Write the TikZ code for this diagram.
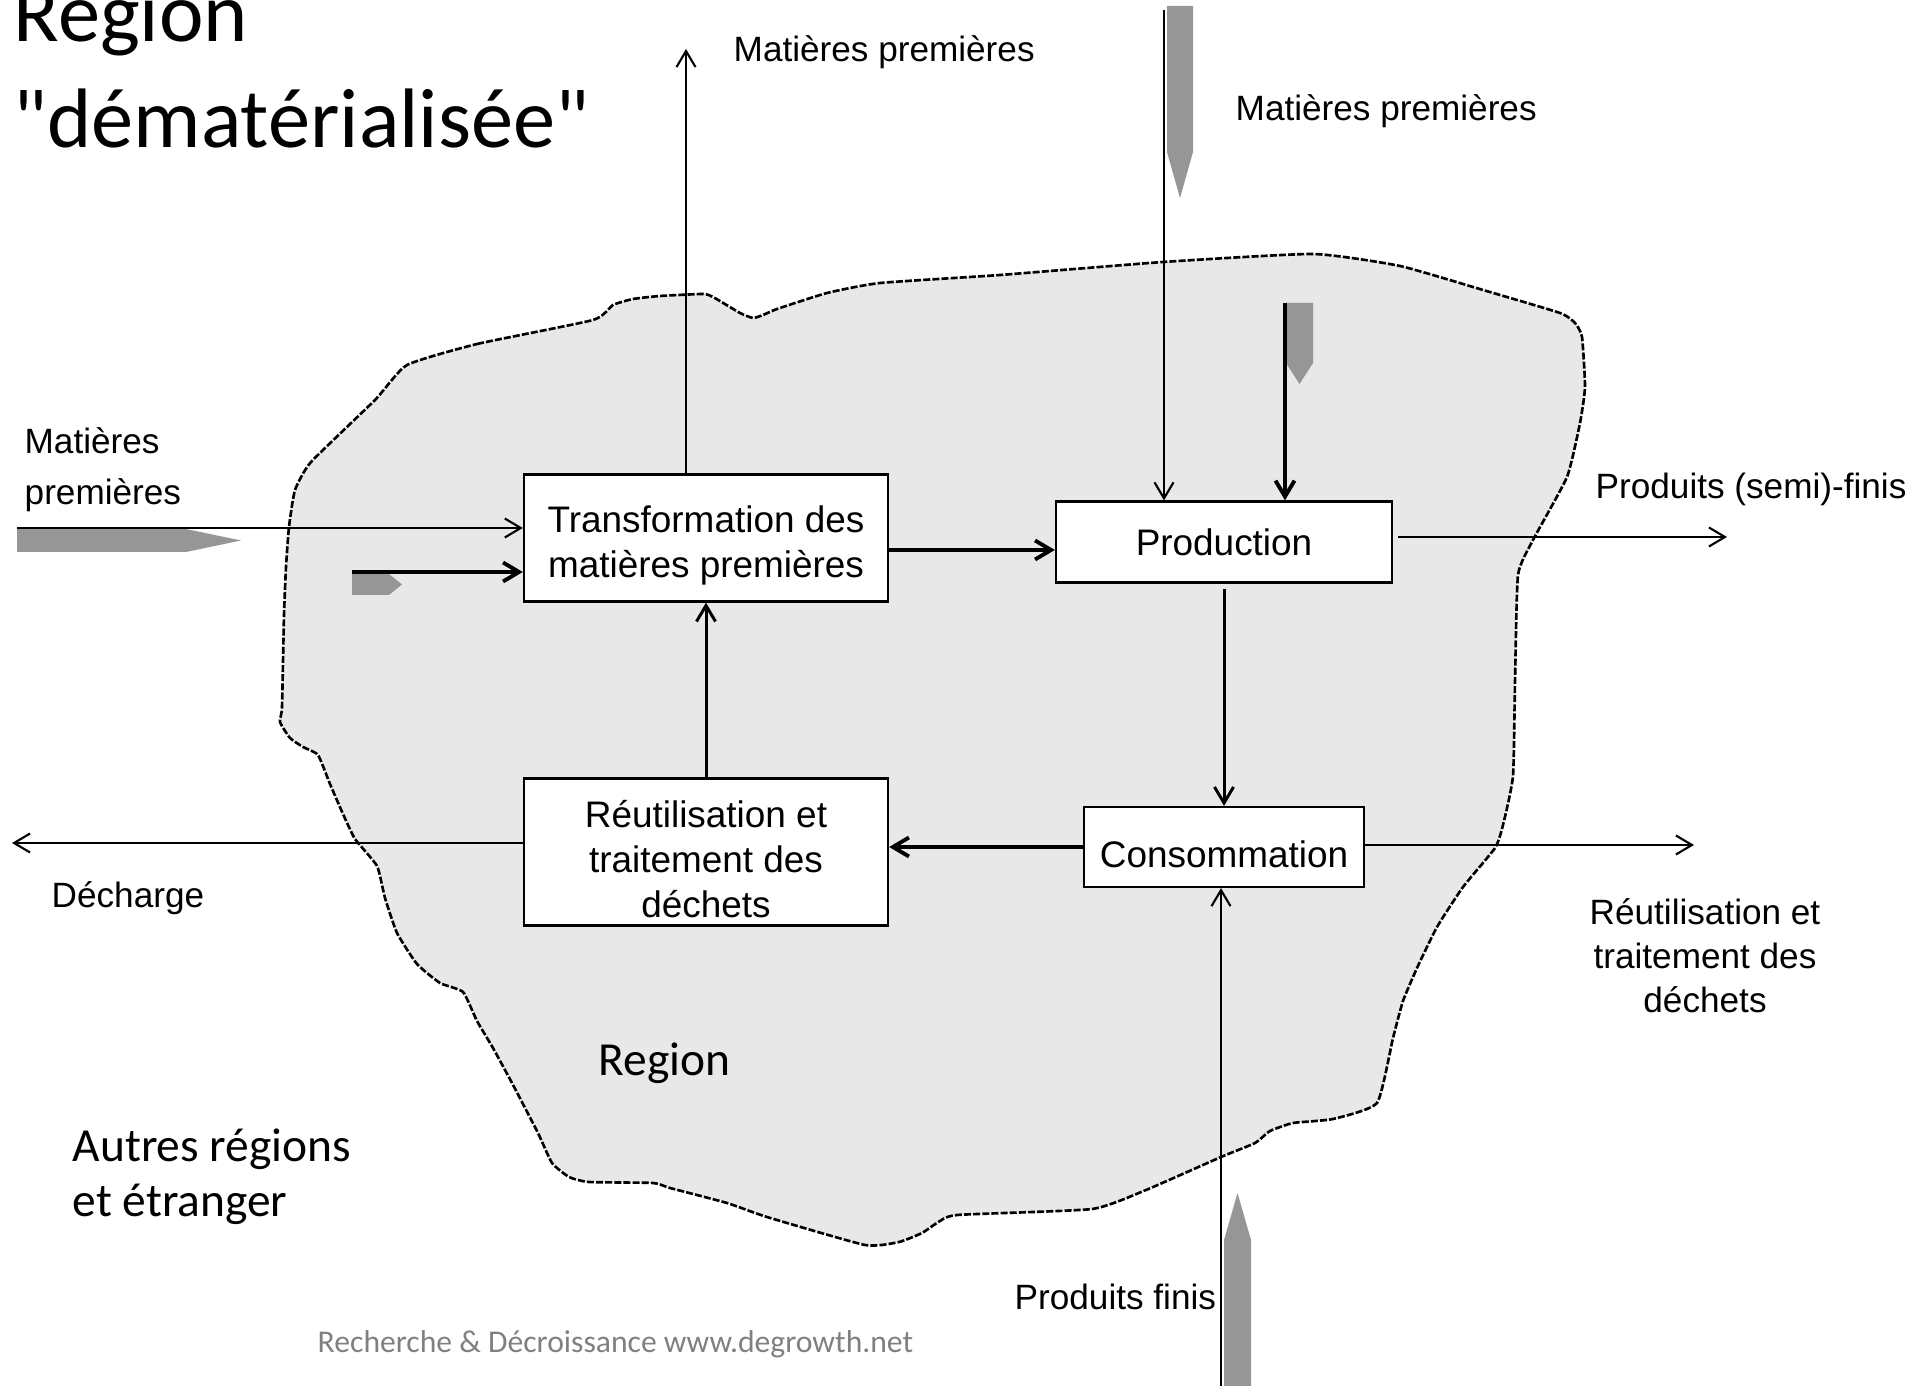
\documentclass[tikz,border=0pt]{standalone}
\usepackage{fontspec}
\setmainfont{Liberation Sans}
\newfontfamily\calibri{Carlito}
\usepackage{tikz}
\usetikzlibrary{arrows.meta,calc}
\definecolor{blobgray}{RGB}{232,232,232}
\definecolor{feedgray}{RGB}{150,150,150}
\definecolor{footgray}{RGB}{128,128,128}
\newcommand{\padtop}{\rule{0pt}{11.7pt}}
\tikzset{
  box/.style={draw, fill=white, line width=0.6pt, align=center, inner sep=2pt, font=\fontsize{10.5}{12.8}\selectfont},
  flow/.style={-{Straight Barb[length=1.6mm,width=1.9mm]}, line width=0.6pt},
  medium/.style={flow, line width=0.85pt},
  heavy/.style={flow, line width=1.1pt},
  feed/.style={fill=feedgray},
  lbl/.style={inner sep=0pt, align=left, font=\fontsize{10}{12.5}\selectfont},
  big/.style={inner sep=0pt, align=left, font=\calibri\fontsize{13.5}{15.6}\selectfont},
  blob/.style={fill=blobgray, draw=black, line width=0.75pt, dash pattern=on 2pt off 0.6pt}
}

\begin{document}
\begin{tikzpicture}[x=0.01cm, y=-0.01cm]
    \useasboundingbox (0,0) rectangle (1921,1386);
    % Region outline
    \draw[blob] plot[smooth cycle, tension=0.3] coordinates {
      (407,365) (477,344) (593,320) (613,305) (633,299) (660,296) (703,294) (713,297)
      (740,313) (753,318) (763,315) (777,309) (827,293) (880,283) (1000,275) (1163,262)
      (1313,254) (1400,266) (1483,290) (1560,313) (1575,323) (1582,337) (1585,387)
      (1580,423) (1567,477) (1533,540) (1518,575) (1515,682) (1513,776) (1503,825)
      (1495,848) (1463,887) (1437,927) (1417,968) (1403,1001) (1393,1038) (1377,1103)
      (1333,1119) (1293,1123) (1270,1131) (1255,1143) (1221,1157) (1146,1190) (1092,1209)
      (957,1215) (937,1223) (922,1233) (899,1242) (865,1245) (767,1217) (727,1203)
      (670,1188) (653,1183) (589,1182) (569,1177) (552,1163) (538,1133) (512,1083)
      (493,1048) (477,1021) (463,992) (440,983) (417,964) (397,933) (385,898) (377,866)
      (355,839) (343,814) (330,784) (318,755) (303,747) (290,738) (280,722) (282,707)
      (284,615) (286,567) (289,527) (295,490) (311,462) (375,400)};
    % Boxes
    \node[box, minimum width=3.64cm, minimum height=1.27cm] (trans) at (706,538) {\padtop Transformation des\\matières premières};
    \node[box, minimum width=3.36cm, minimum height=0.81cm] (prod) at (1224,542) {Production};
    \node[box, minimum width=2.8cm, minimum height=0.8cm] (conso) at (1224,847) {\padtop Consommation};
    \node[box, minimum width=3.64cm, minimum height=1.47cm] (reuse) at (706,852) {\padtop Réutilisation et\\traitement des\\déchets};
    % Grey inflows
    \fill[feed] (17,529) -- (186,529) -- (241,540.5) -- (186,552) -- (17,552) -- cycle;
    \fill[feed] (352,574) -- (389,574) -- (402,584.5) -- (389,595) -- (352,595) -- cycle;
    \fill[feed] (1167,6) -- (1193,6) -- (1193,152) -- (1180,198) -- (1167,152) -- cycle;
    \fill[feed] (1286,303) -- (1313,303) -- (1313,363) -- (1299.5,384) -- (1286,363) -- cycle;
    \fill[feed] (1224,1386) -- (1224,1240) -- (1237.5,1193) -- (1251,1240) -- (1251,1386) -- cycle;
    % Flows inside the region
    \path (trans.east) ++(0,12) coordinate (t2p);
    \draw[heavy] (t2p) -- (t2p -| prod.west);
    \draw[medium] ([yshift=-0.05cm]prod.south) -- (conso.north);
    \draw[heavy] (conso.west) -- (conso.west -| reuse.east);
    \draw[medium] (reuse.north) -- (trans.south);
    % Flows across the border
    \coordinate (rawtop) at (686,49);
    \draw[flow] (trans.north -| rawtop) -- (rawtop);
    \coordinate (rawleft) at (17,528);
    \draw[flow] (rawleft) -- (rawleft -| trans.west);
    \coordinate (recleft) at (352,572);
    \draw[heavy] (recleft) -- (recleft -| trans.west);
    \coordinate (rawright) at (1164,10);
    \draw[flow] (rawright) -- (rawright |- prod.north);
    \coordinate (recright) at (1285,303);
    \draw[heavy] (recright) -- (recright |- prod.north);
    \coordinate (semi) at (1727,537);
    \draw[flow] ([xshift=0.05cm]prod.east |- semi) -- (semi);
    \coordinate (wasteout) at (1694,845);
    \draw[flow] (conso.east |- wasteout) -- (wasteout);
    \coordinate (dump) at (12,843);
    \draw[flow] (reuse.west |- dump) -- (dump);
    \coordinate (finis) at (1221,1386);
    \draw[flow] (finis) -- (finis |- conso.south);
    % Labels
    \node[lbl, anchor=west] (rawtoplbl) at (733,52) {Matières premières};
    \node[lbl, anchor=west] (rawrightlbl) at (1235,111) {Matières premières};
    \node[lbl, anchor=west, font=\fontsize{10}{14.5}\selectfont] (rawleftlbl) at (24,470) {Matières\\premières};
    \node[lbl, anchor=west] (semilbl) at (1595,489) {Produits (semi)-finis};
    \node[lbl, align=center] (wastelbl) at (1705,956) {Réutilisation et\\traitement des\\déchets};
    \node[lbl, anchor=west] (dumplbl) at (51,898) {Décharge};
    \node[lbl, anchor=west] (finislbl) at (1014,1297) {Produits finis};
    \node[big, anchor=west] (regionlbl) at (598,1063) {Region};
    \node[big, anchor=west] (otherlbl) at (72,1177) {Autres régions\\et étranger};
    \node[big, anchor=north west, font=\calibri\fontsize{24}{30.2}\selectfont] (title) at (13,-17) {Region\\"dématérialisée"};
    \node[anchor=west, inner sep=0pt, text=footgray, font=\calibri\fontsize{9}{11}\selectfont] (footer) at (317,1344) {Recherche \& Décroissance www.degrowth.net};
\end{tikzpicture}
\end{document}
